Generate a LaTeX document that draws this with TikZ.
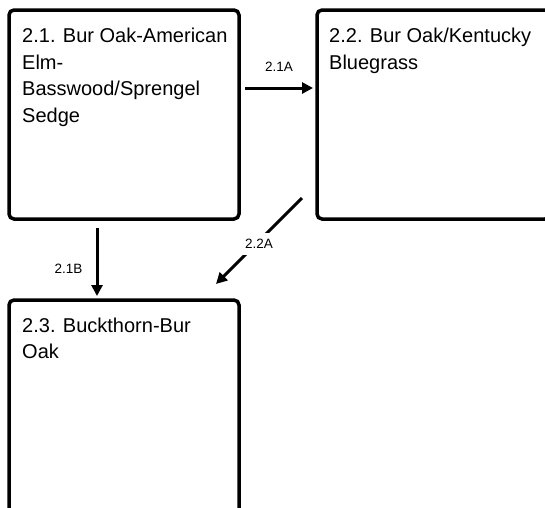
\documentclass[tikz,border=0pt]{standalone}
\usepackage{fontspec}
\setmainfont{Liberation Sans}
\usetikzlibrary{arrows.meta,positioning}

\begin{document}
\begin{tikzpicture}[x=1pt, y=1pt, >={Triangle[length=11pt,width=11pt]},
    statebox/.style={draw, line width=3.5pt, rounded corners=5pt, inner sep=0pt, outer sep=0pt,
      minimum width=230pt, minimum height=209pt, anchor=north west},
    boxtext/.style={anchor=north west, align=left, inner sep=0pt, font=\fontsize{20}{26.5}\selectfont},
    trans/.style={->, line width=3pt},
    translabel/.style={font=\fontsize{13.5}{16}\selectfont, inner sep=0pt}]
  \path[use as bounding box, clip] (0,0) rectangle (545,-507);

  % State boxes
  \node[statebox] (s21) at (9,-10) {};
  \node[statebox, minimum width=233pt] (s22) at (317,-10) {};
  \node[statebox, minimum height=240pt] (s23) at (9,-300) {};

  % Box titles
  \node[boxtext] (t21) at ([shift={(13,-18)}]s21.north west) {2.1. Bur Oak-American\\Elm-\\Basswood/Sprengel\\Sedge};
  \node[boxtext] (t22) at ([shift={(12,-18)}]s22.north west) {2.2. Bur Oak/Kentucky\\Bluegrass};
  \node[boxtext] (t23) at ([shift={(13,-17.5)}]s23.north west) {2.3. Buckthorn-Bur\\Oak};

  % Transitions
  \draw[trans] ([shift={(6,-78)}]s21.north east) -- ([shift={(-4,-78)}]s22.north west)
    node[translabel, midway, above=15pt] {2.1A};
  \draw[trans] ([shift={(88,-9)}]s21.south west) -- ([shift={(88,4)}]s23.north west)
    node[translabel, pos=0.6, left=13pt] {2.1B};
  \draw[trans] ([shift={(-15,21)}]s22.south west) -- ([shift={(-23,16)}]s23.north east)
    node[translabel, midway, yshift=-3pt, fill=white, inner sep=6pt] {2.2A};
\end{tikzpicture}
\end{document}
